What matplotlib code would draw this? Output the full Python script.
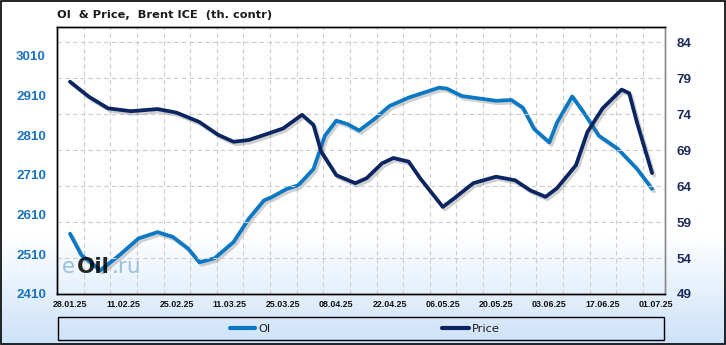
import numpy as np
import pandas as pd
import matplotlib
matplotlib.use("Agg")
import matplotlib.pyplot as plt
import matplotlib.dates as mdates
import matplotlib.patheffects as pe
from matplotlib.patches import Rectangle
from matplotlib.lines import Line2D

# ---------------- data ----------------
oi_dates = ["2025-01-28", "2025-01-31", "2025-02-05", "2025-02-10", "2025-02-15",
            "2025-02-20", "2025-02-24", "2025-02-28", "2025-03-03", "2025-03-07",
            "2025-03-12", "2025-03-16", "2025-03-20", "2025-03-22", "2025-03-26",
            "2025-03-29", "2025-04-02", "2025-04-05", "2025-04-08", "2025-04-11",
            "2025-04-14", "2025-04-18", "2025-04-22", "2025-04-27", "2025-05-05",
            "2025-05-07", "2025-05-11", "2025-05-14", "2025-05-20", "2025-05-24",
            "2025-05-27", "2025-05-30", "2025-06-03", "2025-06-05", "2025-06-09",
            "2025-06-12", "2025-06-16", "2025-06-21", "2025-06-26", "2025-06-30"]
oi_values = [2562, 2508, 2470, 2508, 2550,
             2566, 2554, 2525, 2490, 2500,
             2541, 2600, 2646, 2654, 2675,
             2684, 2725, 2809, 2847, 2838,
             2822, 2851, 2884, 2905, 2930,
             2928, 2909, 2905, 2897, 2899,
             2880, 2826, 2792, 2842, 2908,
             2868, 2809, 2776, 2726, 2675]

price_dates = ["2025-01-28", "2025-02-02", "2025-02-07", "2025-02-13", "2025-02-20",
               "2025-02-25", "2025-03-03", "2025-03-08", "2025-03-12", "2025-03-16",
               "2025-03-20", "2025-03-25", "2025-03-30", "2025-04-02", "2025-04-04",
               "2025-04-08", "2025-04-13", "2025-04-16", "2025-04-20", "2025-04-23",
               "2025-04-27", "2025-04-30", "2025-05-06", "2025-05-09", "2025-05-14",
               "2025-05-20", "2025-05-25", "2025-05-29", "2025-06-02", "2025-06-05",
               "2025-06-10", "2025-06-13", "2025-06-17", "2025-06-22", "2025-06-24",
               "2025-06-26", "2025-06-30"]
price_values = [78.5, 76.4, 74.8, 74.4, 74.7,
                74.2, 72.9, 71.1, 70.15, 70.4,
                71.1, 72.0, 73.9, 72.5, 68.8,
                65.5, 64.4, 65.1, 67.15, 67.9,
                67.4, 65.1, 61.1, 62.3, 64.4,
                65.3, 64.8, 63.4, 62.5, 63.7,
                66.9, 71.5, 74.8, 77.4, 76.9,
                72.9, 65.8]

x_tick_labels = ["28.01.25", "11.02.25", "25.02.25", "11.03.25", "25.03.25", "08.04.25",
                 "22.04.25", "06.05.25", "20.05.25", "03.06.25", "17.06.25", "01.07.25"]
left_ticks = [2410, 2510, 2610, 2710, 2810, 2910, 3010]
right_ticks = [49, 54, 59, 64, 69, 74, 79, 84]

series_names = ["OI", "Price"]
title = "OI  & Price,  Brent ICE  (th. contr)"

# ---------------- style ----------------
W, H = 726, 345
OI_COLOR = "#0b78c6"
PRICE_COLOR = "#0b2462"
LEFT_LBL = "#1a73c2"
RIGHT_LBL = "#1b2a5c"
GRID = "#cccccc"

fig = plt.figure(figsize=(W / 100, H / 100), dpi=100)

# background gradient
bg = fig.add_axes([0, 0, 1, 1], zorder=-10)
rows = np.linspace(0, 1, H)
top_c = np.array([1.0, 1.0, 1.0])
bot_c = np.array([205, 226, 249]) / 255.0
t = np.clip((rows * H - 235) / (H - 235), 0, 1)[:, None]
grad = top_c * (1 - t) + bot_c * t
img = np.repeat(grad[:, None, :], 10, axis=1)
bg.imshow(img, aspect="auto", extent=[0, 1, 0, 1], origin="upper")
bg.set_axis_off()
bg.add_patch(Rectangle((0.0007, 0.0015), 0.9986, 0.997, transform=bg.transAxes,
                       fill=False, edgecolor="black", lw=1.2))

def px(x, y):
    return x / W, 1 - y / H

left_px, right_px, top_px, bot_px = 57, 665, 27, 294
ax = fig.add_axes([left_px / W, 1 - bot_px / H, (right_px - left_px) / W, (bot_px - top_px) / H])
ax.set_facecolor("none")
ax2 = ax.twinx()

oi_x = pd.to_datetime(oi_dates)
pr_x = pd.to_datetime(price_dates)

shadow = [pe.SimpleLineShadow(offset=(1.5, -1.8), shadow_color="#666666", alpha=0.3),
          pe.Normal()]
ax.plot(oi_x, oi_values, color=OI_COLOR, lw=2.7, solid_capstyle="round",
        solid_joinstyle="round", path_effects=shadow, zorder=3)
ax2.plot(pr_x, price_values, color=PRICE_COLOR, lw=2.7, solid_capstyle="round",
         solid_joinstyle="round", path_effects=shadow, zorder=3)

base = mdates.date2num(pd.Timestamp("2025-01-28"))
xl = (base - 3.42, base + 156.4)
ax.set_xlim(xl)
ax.set_ylim(2410, 3083)
ax2.set_ylim(49, 86.1)

tick_pos = pd.to_datetime(x_tick_labels, format="%d.%m.%y")
ax.set_xticks(mdates.date2num(tick_pos))
ax.set_xticklabels(x_tick_labels, fontsize=6.4, fontweight="bold",
                   family="Liberation Sans", color="#111111")
ax.tick_params(axis="x", length=0, pad=4)

ax.set_yticks(left_ticks)
ax.set_yticklabels([str(v) for v in left_ticks], fontsize=9.6, fontweight="bold",
                   family="Liberation Sans", color=LEFT_LBL)
ax.tick_params(axis="y", length=0, pad=8)

ax2.set_yticks(right_ticks)
ax2.set_yticklabels([str(v) for v in right_ticks], fontsize=9.6, fontweight="bold",
                    family="Liberation Sans", color=RIGHT_LBL)
ax2.tick_params(axis="y", length=0, pad=8.5)

# grid
for g in np.arange(xl[0] + 7, xl[1], 7):
    ax.axvline(g, color=GRID, lw=0.8, ls=(0, (4, 3)), zorder=1)
for v in right_ticks[1:]:
    ax2.axhline(v, color=GRID, lw=0.8, ls=(0, (4, 3)), zorder=1)

for a in (ax, ax2):
    for s in ("left", "top", "bottom"):
        a.spines[s].set_color("black")
        a.spines[s].set_linewidth(1.0)
    a.spines["right"].set_color("#8a8a8a")
    a.spines["right"].set_linewidth(1.0)

# title
fig.text(*px(57, 15), title, fontsize=8.2, fontweight="bold", family="DejaVu Sans",
         color="#1a1a1a", va="center", ha="left")

# watermark
fig.text(*px(62, 267), "e", fontsize=15.5, color="#8fbbe0", va="center", ha="left",
         family="DejaVu Sans", alpha=0.9)
fig.text(*px(77, 267), "Oil", fontsize=15.5, color="black", va="center", ha="left",
         family="DejaVu Sans", fontweight="bold", alpha=0.85)
fig.text(*px(112, 267), ".ru", fontsize=15.5, color="#8fbbe0", va="center", ha="left",
         family="DejaVu Sans", alpha=0.9)

# legend
lg = fig.add_axes([0, 0, 1, 1], zorder=5)
lg.set_xlim(0, W)
lg.set_ylim(H, 0)
lg.set_axis_off()
lg.add_patch(Rectangle((58, 316.5), 606, 23.5, fill=False, edgecolor="black", lw=1.0))
lg.add_line(Line2D([230, 255], [328, 328], color=OI_COLOR, lw=3, solid_capstyle="round"))
lg.text(258, 328.5, series_names[0], fontsize=8.2, family="DejaVu Sans", va="center",
        ha="left", color="#1a1a1a")
lg.add_line(Line2D([442, 469], [328, 328], color=PRICE_COLOR, lw=3, solid_capstyle="round"))
lg.text(472, 328.5, series_names[1], fontsize=8.2, family="DejaVu Sans", va="center",
        ha="left", color="#1a1a1a")

fig.savefig("out.png", dpi=100)
